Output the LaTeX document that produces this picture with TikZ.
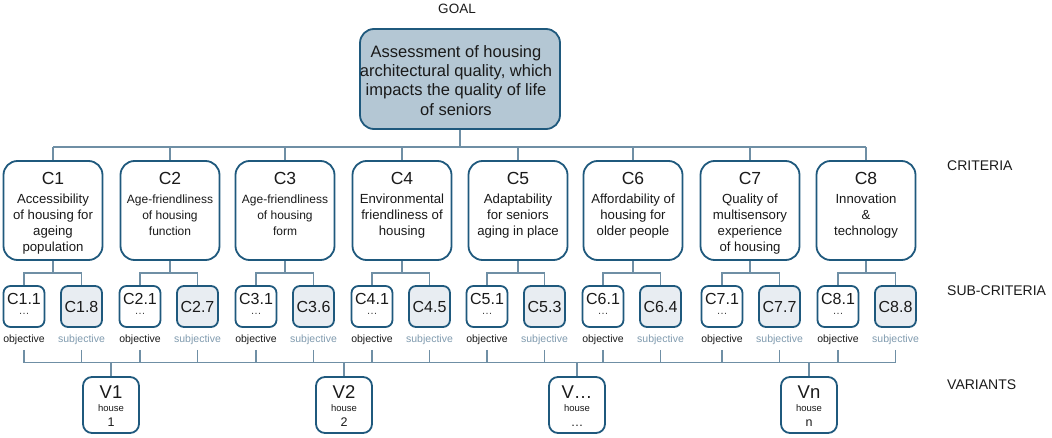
\documentclass[tikz,border=0pt]{standalone}
\usepackage{fontspec}
\setmainfont{Liberation Sans}
\definecolor{bord}{HTML}{1F597D}
\definecolor{connc}{HTML}{6F8FA5}
\definecolor{goalfill}{HTML}{B4C7D4}
\definecolor{subfill}{HTML}{E8EDF2}
\definecolor{subjc}{HTML}{7F9AAE}
\definecolor{txt}{HTML}{1A1A1A}
\newcommand\myfs[2]{\fontsize{#1}{#2}\selectfont}
\begin{document}
\begin{tikzpicture}[x=1pt,y=-1pt,
  box/.style={draw=bord, line width=1.8pt, inner sep=0pt},
  goalbox/.style={box, fill=goalfill, rounded corners=14pt, minimum width=200pt, minimum height=100pt},
  critbox/.style={box, fill=white, rounded corners=14pt, minimum width=99pt, minimum height=99pt},
  subbox/.style={box, rounded corners=7pt, minimum width=41pt, minimum height=41pt},
  varbox/.style={box, fill=white, rounded corners=9pt, minimum width=56pt, minimum height=56pt},
  tx/.style={inner sep=0pt, text=txt},
  goaltxt/.style={tx, anchor=north, align=center, font=\myfs{16.5}{19.3}},
  crittitle/.style={tx, anchor=base, font=\myfs{17.5}{20}},
  critdesc/.style={tx, anchor=north, align=center, font=\myfs{13.2}{16}},
  critdescs/.style={critdesc, font=\myfs{12}{16}},
  subtxt/.style={tx, anchor=base, font=\myfs{16}{19}},
  dotstxt/.style={tx, anchor=base, font=\myfs{11}{12}, text=black!75},
  objtxt/.style={tx, anchor=base, font=\myfs{10.5}{12}},
  subjtxt/.style={objtxt, text=subjc},
  vtitle/.style={tx, anchor=base, font=\myfs{18.5}{20}},
  vhouse/.style={tx, anchor=base, font=\myfs{9.5}{11}},
  vnum/.style={tx, anchor=base, font=\myfs{12.5}{14}},
  sidelab/.style={tx, anchor=base west, font=\myfs{14}{16}},
  conn/.style={draw=connc, line width=1.3pt}
]
\useasboundingbox (0,0) rectangle (1052,438);

% goal
\node[tx, anchor=base, font=\myfs{13.5}{16}] (goallab) at (457,13.5) {GOAL};
\node[goalbox] (goal) at (460,79) {};
\node[goaltxt] (goaltext) at (456,45) {Assessment of housing\\architectural quality, which\\impacts the quality of life\\of seniors};

% side labels
\node[sidelab] (lcrit) at (947,171) {CRITERIA};
\node[sidelab] (lsub) at (947,295) {SUB-CRITERIA};
\node[sidelab] (lvar) at (947,389.5) {VARIANTS};

% criteria boxes
\foreach \i/\x in {1/53,2/170,3/285,4/402,5/518,6/633,7/750,8/866}{
  \node[critbox] (c\i) at (\x,210.5) {};
  \node[crittitle] (ct\i) at (\x,185) {C\i};
}
\node[critdesc] (cd1) at (53,193.4) {Accessibility\\of housing for\\ageing\\population};
\node[critdescs] (cd2) at (170,194.2) {Age-friendliness\\of housing\\function};
\node[critdescs] (cd3) at (285,194.2) {Age-friendliness\\of housing\\form};
\node[critdesc] (cd4) at (402,193.4) {Environmental\\friendliness of\\housing};
\node[critdesc] (cd5) at (518,193.4) {Adaptability\\for seniors\\aging in place};
\node[critdesc] (cd6) at (633,193.4) {Affordability of\\housing for\\older people};
\node[critdesc] (cd7) at (750,193.4) {Quality of\\multisensory\\experience\\of housing};
\node[critdesc] (cd8) at (866,193.4) {Innovation\\\&\\technology};

% goal to criteria
\coordinate (busA) at (0,147);
\draw[conn] (goal.south) -- (goal.south |- busA);
\draw[conn] (c1.north |- busA) -- (c8.north |- busA);
\foreach \i in {1,...,8}{
  \draw[conn] (c\i.north |- busA) -- (c\i.north);
}

% sub-criteria
\coordinate (brY) at (0,273);
\coordinate (busB) at (0,362.5);
\foreach \i/\x/\r in {1/24/8,2/140/7,3/256/6,4/372/5,5/487/3,6/603/4,7/722/7,8/838/8}{
  \node[subbox, fill=white] (sa\i) at (\x,306.5) {};
  \node[subtxt] (sat\i) at (\x,304.5) {C\i.1};
  \node[dotstxt] (sad\i) at (\x,314.5) {\ldots};
  \node[subbox, fill=subfill] (sb\i) at (\x+57.5,306.5) {};
  \node[subtxt] (sbt\i) at (\x+57.5,312.5) {C\i.\r};
  \node[objtxt] (oa\i) at (\x,342.5) {objective};
  \node[subjtxt] (ob\i) at (\x+57.5,342.5) {subjective};
  \draw[conn] (c\i.south) -- (c\i.south |- brY);
  \draw[conn] (sa\i.north) -- (sa\i.north |- brY) -- (sb\i.north |- brY) -- (sb\i.north);
  \draw[conn] ([yshift=-5pt]oa\i.south) -- (oa\i.south |- busB);
  \draw[conn] ([yshift=-5pt]ob\i.south) -- (ob\i.south |- busB);
}
\draw[conn] (oa1.south |- busB) -- (ob8.south |- busB);

% variants
\foreach \i/\x/\t/\n in {1/111/V1/1,2/344/V2/2,3/577/V\ldots/\ldots,4/809/Vn/n}{
  \node[varbox] (v\i) at (\x,405) {};
  \node[vtitle] (vt\i) at (\x,398.3) {\t};
  \node[vhouse] (vh\i) at (\x,411.7) {house};
  \node[vnum] (vn\i) at (\x,426.5) {\n};
  \draw[conn] (v\i.north |- busB) -- (v\i.north);
}
\end{tikzpicture}
\end{document}
